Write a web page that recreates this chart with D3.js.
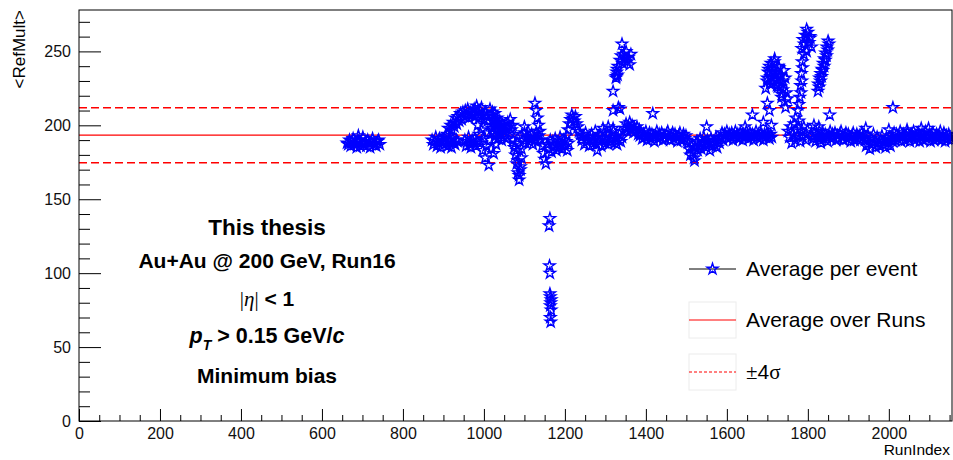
<!DOCTYPE html>
<html>
<head>
<meta charset="utf-8">
<script src="https://cdn.jsdelivr.net/npm/d3@7"></script>
<style>
  body { margin: 0; background: #fff; }
  svg { display: block; }
  text { font-family: "Liberation Sans", Arial, Helvetica, sans-serif; }
</style>
</head>
<body>
<svg id="chart" width="953" height="460"></svg>
<script>
// ---------------- data ----------------
const runStep = 3;
const segStart = [662, 872, 909, 953, 973, 985, 1015, 1020, 1059, 1072, 1075, 1094, 1126, 1158, 1205, 1242,
  1336, 1348, 1385, 1504, 1528, 1585, 1696, 1700, 1751, 1785, 1825, 1826, 1810, 1941, 2010];
const segValues = [
  [188,187,190,186,189,191,187,188,185,190,189,186,188,192,187,189,186,190,188,185,189,191,187,188,186,189,190,187],
  [190,187,189,192,186,188,191,185,189,190,187,193,188,186,190,189,185,191,188,187,190,189],
  [194,198,193,200,197,202,199,205,201,206,203,208,204,209,206,210,207,211,205,209,207],
  [190,186,189,192,187,185,190,188,191,186,189],
  [208,211,206,213,209,205,210,212,207,204,209,206,203],
  [200,194,188,197,183,191,178,186,195,173,190,184,198,181,193,187],
  [211,207,209,204,208,202,205,200,203,199,201,197,199,196,198],
  [198,195,200,193,197,191,195,194,190,196,192,194,191],
  [202,199,204,197,200],
  [190,185,180,174,168,163,170,178],
  [194,188,183,176,166,172,184],
  [193,190,195,188,192,196,189,191,194,187,192,190,195,189,193],
  [215,210,205,200,196,190,186,181,177,174,187],
  [187,184,190,182,189,186,191,183,188,185,192,187,184,190,186,189,183,188],
  [193,197,201,204,207,205,203,206,201,199,196,194,192],
  [190,193,187,195,189,192,186,191,194,188,190,196,187,192,189,193,186,191,195,188,190,194,187,192,189,191,196,188,193,187,190,194,189,192],
  [244,247,242,248,245,250,243,246,241,248],
  [198,201,196,199,202,197,200,195,198,196,199,194,197],
  [193,195,191,194,192,196,190,193,195,191,194,192,189,193,196,191,194,192,195,190,193,191,194,196,192,190,193,195,191,194,192,189,193,195,190,192,194,191,193,190],
  [188,184,180,186,182,178,185,189,183],
  [189,186,191,184,188,192,187,185,190,188,183,191,186,189,187,192,185,190,188],
  [192,195,190,194,193,196,191,194,192,195,190,193,196,192,194,191,195,193,190,194,192,196,193,191,195,192,194,190,193,196,192,194,191,195,193,190,194,192,195,193,191,194,192],
  [225,230,236,240,233,228,238,243,235,231,226,239,234,229,224,237,232,222,218],
  [232,238,228,242,236,230,245,234,227,240,233,226,221,230,216],
  [196,192,199,188,194,201,190,197,193,203,189,196,192,199,194,190,197],
  [252,258,255,261,250,263,256,259,253],
  [223,226,230,233,237,240,244,247,251,255],
  [228,232,235,238,242,245,249,253,257],
  [193,191,195,189,194,192,196,190,193,195,191,194,192,189,193,196,191,194,192,195,190,193,191,194,196,192,190,193,195,191,194,192,189,193,195,190,192,194,191,193,190,195,192,194],
  [190,186,193,188,184,191,187,194,189,185,192,188,186,190,193,187,189,185,191,188,192,186,190,189],
  [192,195,190,194,191,193,196,189,192,194,190,193,195,191,189,194,192,196,190,193,191,195,189,192,194,190,193,196,191,192,194,189,193,195,190,192,194,191,193,196,190,192,195,189,193,191,194,192,190]
];
const outlierRuns = [690, 1100, 1163, 1161, 1162, 1163, 1164, 1165, 1164, 1166, 1165, 1166, 1163, 1164,
  1294, 1319, 1280, 1307, 1319, 1319, 1336, 1332, 1326, 1328, 1330, 1329, 1331, 1327, 1341,
  1417, 1520, 1550, 1645, 1663, 1710, 1690, 1700, 1735, 1745, 1705,
  1770, 1775, 1780, 1782, 1784, 1786, 1778, 1783, 1785, 1787, 1797, 1790, 1805, 1800,
  1815, 1827, 1832, 1854, 1943, 2010, 2000, 2045, 2080, 2098];
const outlierValues = [193, 199, 137, 132, 105, 100, 84, 80, 78, 75, 67, 82, 86, 70,
  198, 198, 183, 199, 223, 210, 211, 212, 232, 236, 234, 238, 240, 233, 255,
  208, 176, 199, 199, 207, 200, 202, 215, 219, 212, 210,
  205, 210, 219, 227, 235, 243, 214, 222, 230, 239, 265, 248, 260, 256,
  200, 199, 188, 207, 198, 212, 197, 197, 198, 198];
const meanValue = 193.3;
const sigmaValue = 4.65;
const xMajorTicks = [0, 200, 400, 600, 800, 1000, 1200, 1400, 1600, 1800, 2000];
const yMajorTicks = [0, 50, 100, 150, 200, 250];
const legendLabels = ["Average per event", "Average over Runs", "±4σ"];

// ---------------- build points ----------------
const points = [];
segStart.forEach((s, i) => segValues[i].forEach((v, j) => points.push({ run: s + j * runStep, val: v })));
outlierRuns.forEach((r, i) => points.push({ run: r, val: outlierValues[i] }));

// ---------------- chart ----------------
const svg = d3.select("#chart");
const L = 79, R = 952, T = 10, B = 421;
const x = d3.scaleLinear().domain([0, 2156]).range([L, R]);
const y = d3.scaleLinear().domain([0, 278]).range([B, T]);

const xMinor = d3.range(0, 2156, 50).filter(v => v % 200 !== 0);
const yMinor = d3.range(0, 278, 10).filter(v => v % 50 !== 0);

const gx = svg.append("g").attr("transform", `translate(0,${B})`);
gx.call(d3.axisBottom(x).tickValues(xMajorTicks).tickFormat(d3.format("d"))
  .tickSizeInner(-12).tickSizeOuter(0).tickPadding(7));
gx.append("g").call(d3.axisBottom(x).tickValues(xMinor).tickFormat("").tickSizeInner(-6).tickSizeOuter(0));
gx.selectAll(".domain").remove();
gx.selectAll("text").attr("font-size", 16).attr("fill", "#111").style("font-family", '"Liberation Sans", Arial, sans-serif');
gx.selectAll("line").attr("stroke", "#000");

const gy = svg.append("g").attr("transform", `translate(${L},0)`);
gy.call(d3.axisLeft(y).tickValues(yMajorTicks).tickFormat(d3.format("d"))
  .tickSizeInner(-22).tickSizeOuter(0).tickPadding(8));
gy.append("g").call(d3.axisLeft(y).tickValues(yMinor).tickFormat("").tickSizeInner(-11).tickSizeOuter(0));
gy.selectAll(".domain").remove();
gy.selectAll("text").attr("font-size", 16).attr("fill", "#111").style("font-family", '"Liberation Sans", Arial, sans-serif');
gy.selectAll("line").attr("stroke", "#000");

// reference lines
svg.append("line").attr("x1", x(0)).attr("x2", x(2156)).attr("y1", y(meanValue)).attr("y2", y(meanValue))
  .attr("stroke", "#ff0000").attr("stroke-width", 1.2);
[meanValue + 4 * sigmaValue, meanValue - 4 * sigmaValue].forEach(v => {
  svg.append("line").attr("x1", x(0)).attr("x2", x(2156)).attr("y1", y(v)).attr("y2", y(v))
    .attr("stroke", "#ff0000").attr("stroke-width", 1.5).attr("stroke-dasharray", "8,4");
});

// points
const star = d3.symbol().type(d3.symbolStar).size(38);
svg.append("g").selectAll("path").data(points).join("path")
  .attr("d", star)
  .attr("transform", d => `translate(${x(d.run)},${y(d.val)})`)
  .attr("fill", "none").attr("stroke", "#0000ff").attr("stroke-width", 1.4);

// frame
svg.append("rect").attr("x", L).attr("y", T).attr("width", R - L).attr("height", B - T)
  .attr("fill", "none").attr("stroke", "#000").attr("stroke-width", 1);

// axis titles
svg.append("text").attr("transform", `translate(25,${T}) rotate(-90)`).attr("text-anchor", "end")
  .attr("font-size", 17).text("<RefMult>");
svg.append("text").attr("x", 950).attr("y", 455).attr("text-anchor", "end")
  .attr("font-size", 15.5).text("RunIndex");

// info text block
const cx = 267;
svg.append("text").attr("x", cx).attr("y", 235).attr("text-anchor", "middle").attr("font-size", 22.5)
  .attr("font-weight", "bold").text("This thesis");
svg.append("text").attr("x", cx).attr("y", 268).attr("text-anchor", "middle").attr("font-size", 21)
  .attr("font-weight", "bold").text("Au+Au @ 200 GeV, Run16");
const eta = svg.append("text").attr("x", cx).attr("y", 306).attr("text-anchor", "middle").attr("font-size", 21);
eta.append("tspan").attr("font-family", '"Liberation Serif", serif').text("|");
eta.append("tspan").attr("font-family", '"Liberation Serif", serif').attr("font-style", "italic").text("η");
eta.append("tspan").attr("font-family", '"Liberation Serif", serif').text("|");
eta.append("tspan").attr("font-weight", "bold").text(" < 1");
const pt = svg.append("text").attr("x", cx).attr("y", 343).attr("text-anchor", "middle").attr("font-size", 21.5)
  .attr("font-weight", "bold");
pt.append("tspan").attr("font-style", "italic").text("p");
pt.append("tspan").attr("font-style", "italic").attr("font-size", 14).attr("dy", 7).text("T");
pt.append("tspan").attr("dy", -7).text(" > 0.15 GeV/");
pt.append("tspan").attr("font-style", "italic").text("c");
svg.append("text").attr("x", cx).attr("y", 383).attr("text-anchor", "middle").attr("font-size", 21)
  .attr("font-weight", "bold").text("Minimum bias");

// legend
const lg = svg.append("g");
const lx1 = 689, lx2 = 736, tx = 746;
const rowsY = [269, 320, 372];
lg.append("line").attr("x1", lx1).attr("x2", lx2).attr("y1", rowsY[0]).attr("y2", rowsY[0]).attr("stroke", "#000");
lg.append("path").attr("d", star).attr("transform", `translate(${(lx1 + lx2) / 2},${rowsY[0]})`)
  .attr("fill", "none").attr("stroke", "#0000ff").attr("stroke-width", 1.4);
[1, 2].forEach(i => {
  lg.append("rect").attr("x", lx1).attr("y", rowsY[i] - 18).attr("width", lx2 - lx1).attr("height", 36)
    .attr("fill", "none").attr("stroke", "#ececec");
});
lg.append("line").attr("x1", lx1).attr("x2", lx2).attr("y1", rowsY[1]).attr("y2", rowsY[1]).attr("stroke", "#ff0000");
lg.append("line").attr("x1", lx1).attr("x2", lx2).attr("y1", rowsY[2]).attr("y2", rowsY[2]).attr("stroke", "#ff0000")
  .attr("stroke-dasharray", "3,2");
legendLabels.forEach((t, i) => {
  const te = lg.append("text").attr("x", tx).attr("y", rowsY[i] + 7).attr("font-size", 21);
  if (i === 2) {
    te.append("tspan").attr("font-family", '"Liberation Serif", serif').text("±");
    te.append("tspan").text("4");
    te.append("tspan").attr("font-family", '"Liberation Serif", serif').text("σ");
  } else {
    te.text(t);
  }
});
</script>
</body>
</html>
